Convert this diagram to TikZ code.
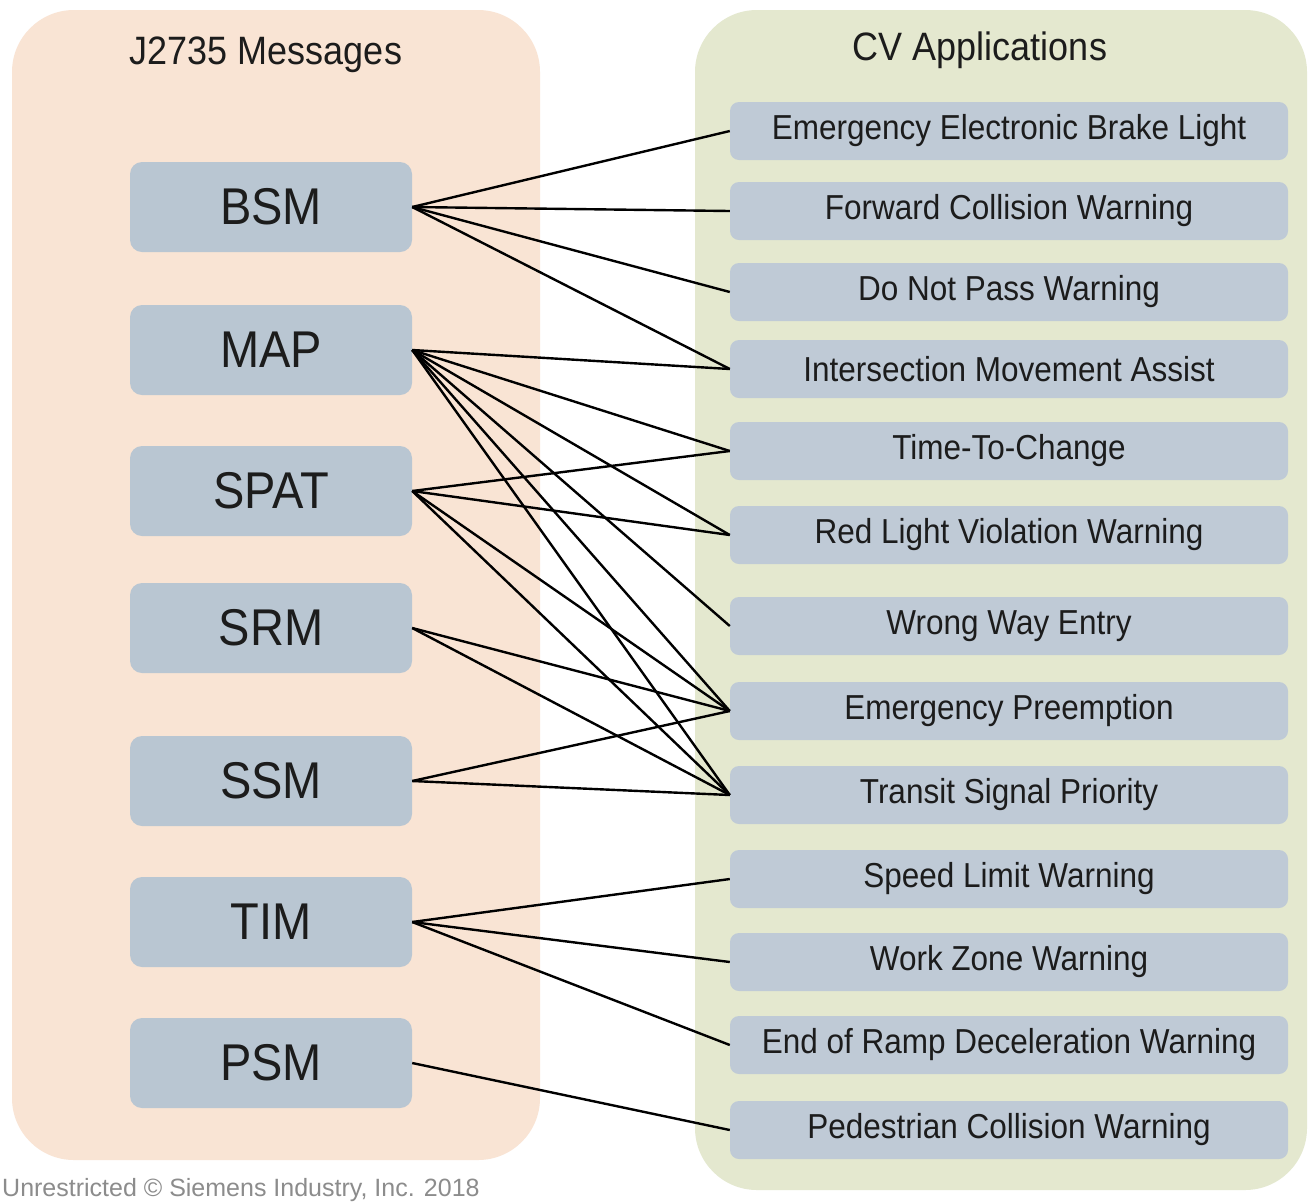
\documentclass[tikz,border=0pt]{standalone}
\usepackage{fontspec}
\setmainfont{Liberation Sans}
\definecolor{peach}{HTML}{F9E4D4}
\definecolor{sage}{HTML}{E4E8CF}
\definecolor{msgblue}{HTML}{B9C6D2}
\definecolor{appblue}{HTML}{BFCAD6}
\definecolor{ink}{HTML}{1C1C1C}
\definecolor{note}{HTML}{8C8C8C}
% labels are set slightly taller than the font's natural shape
\newcommand{\tallface}[1]{\scalebox{1}[1.1]{#1}}
\tikzset{
  panel/.style={rounded corners=62pt},
  msgbox/.style={fill=msgblue, rounded corners=12pt, minimum width=282pt,
    minimum height=90pt, inner sep=0pt, text=ink, font=\fontsize{47}{47}\selectfont},
  appbox/.style={fill=appblue, rounded corners=9pt, minimum width=558pt,
    minimum height=58pt, inner sep=0pt, text=ink, font=\fontsize{31.5}{32}\selectfont},
  heading/.style={text=ink, font=\fontsize{36}{36}\selectfont},
  link/.style={draw=black, line width=2.4pt}
}
\begin{document}
\begin{tikzpicture}[x=1pt,y=-1pt]
\useasboundingbox (0,0) rectangle (1311,1203);
\fill[white] (0,0) rectangle (1311,1203);

% group panels
\fill[peach, panel] (12,10) rectangle (540,1160);
\fill[sage, panel] (695,10) rectangle (1307,1190);

\node[heading] (hmsg) at (266,55) {\tallface{J2735 Messages}};
\node[heading] (happ) at (980,50) {\tallface{CV Applications}};

% J2735 messages
\node[msgbox] (bsm)  at (271,207)  {\tallface{BSM}};
\node[msgbox] (map)  at (271,350)  {\tallface{MAP}};
\node[msgbox] (spat) at (271,491)  {\tallface{SPAT}};
\node[msgbox] (srm)  at (271,628)  {\tallface{SRM}};
\node[msgbox] (ssm)  at (271,781)  {\tallface{SSM}};
\node[msgbox] (tim)  at (271,922)  {\tallface{TIM}};
\node[msgbox] (psm)  at (271,1063) {\tallface{PSM}};

% connected-vehicle applications
\node[appbox] (eebl) at (1009,131)  {\tallface{Emergency Electronic Brake Light}};
\node[appbox] (fcw)  at (1009,211)  {\tallface{Forward Collision Warning}};
\node[appbox] (dnpw) at (1009,292)  {\tallface{Do Not Pass Warning}};
\node[appbox] (ima)  at (1009,369)  {\tallface{Intersection Movement Assist}};
\node[appbox] (ttc)  at (1009,451)  {\tallface{Time-To-Change}};
\node[appbox] (rlvw) at (1009,535)  {\tallface{Red Light Violation Warning}};
\node[appbox] (wwe)  at (1009,626)  {\tallface{Wrong Way Entry}};
\node[appbox] (ep)   at (1009,711)  {\tallface{Emergency Preemption}};
\node[appbox] (tsp)  at (1009,795)  {\tallface{Transit Signal Priority}};
\node[appbox] (slw)  at (1009,879)  {\tallface{Speed Limit Warning}};
\node[appbox] (wzw)  at (1009,962)  {\tallface{Work Zone Warning}};
\node[appbox] (erdw) at (1009,1045) {\tallface{End of Ramp Deceleration Warning}};
\node[appbox] (pcw)  at (1009,1130) {\tallface{Pedestrian Collision Warning}};

% message-to-application links
\foreach \m/\apps in {bsm/{eebl,fcw,dnpw,ima},
                      map/{ima,ttc,rlvw,wwe,ep,tsp},
                      spat/{ttc,rlvw,ep,tsp},
                      srm/{ep,tsp},
                      ssm/{ep,tsp},
                      tim/{slw,wzw,erdw},
                      psm/{pcw}}{
  \foreach \a in \apps {
    \draw[link] (\m.east) -- (\a.west);
  }
}

\node[anchor=west, inner sep=0pt, text=note, font=\fontsize{25}{25}\selectfont] (copy) at (2,1190)
  {Unrestricted © Siemens Industry, Inc. 2018};
\end{tikzpicture}
\end{document}
